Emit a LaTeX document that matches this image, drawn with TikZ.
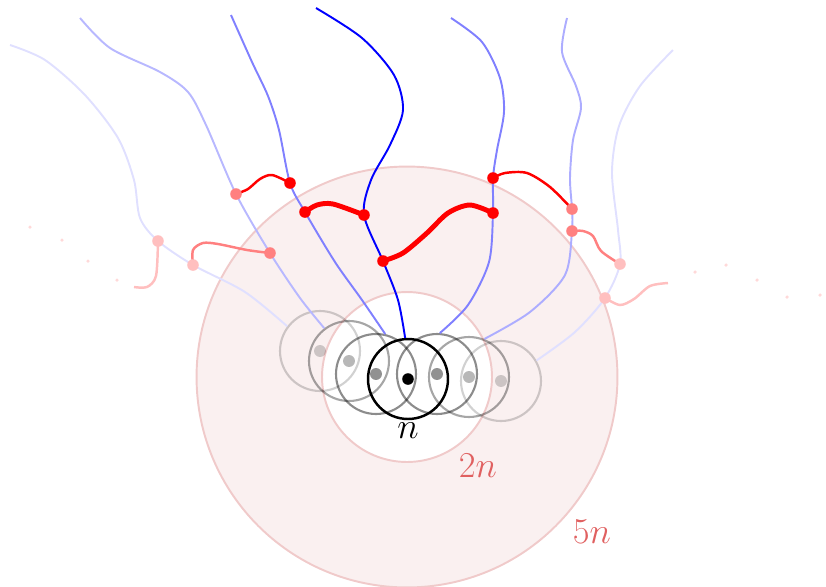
\documentclass[tikz,border=0pt]{standalone}
\definecolor{labred}{RGB}{224,96,96}
\definecolor{zonefill}{RGB}{250,240,240}
\definecolor{zoneline}{RGB}{240,202,202}
\begin{document}
\begin{tikzpicture}[
    x=0.02cm, y=-0.02cm,
    zone/.style={circle, draw=zoneline, line width=1.1pt, inner sep=0pt},
    ring/.style={circle, draw=black, line width=1.2pt, minimum size=1.6cm, inner sep=0pt},
    hub/.style={circle, fill=black, inner sep=0pt, minimum size=6.8pt},
    knot/.style={circle, inner sep=0pt, minimum size=6.6pt},
    speck/.style={circle, fill=red!15, inner sep=0pt, minimum size=2pt},
    strand/.style={line width=1.1pt},
    link/.style={line width=1.4pt},
    bond/.style={line width=2.8pt},
    lab/.style={font=\fontsize{20}{24}\selectfont},
  ]
    \useasboundingbox (0,0) rectangle (826,586);

    % === zones 5n and 2n ===
    \node[zone, fill=zonefill, minimum size=8.42cm] (zone5) at (407,377) {};
    \node[zone, fill=white, minimum size=3.4cm] (zone2) at (407,377) {};

    % === rings round the centre ===
    \node[ring, opacity=0.18] (ringL3) at (320,351) {};
    \node[ring, opacity=0.18] (ringR3) at (501,381) {};
    \node[ring, opacity=0.35] (ringL2) at (349,361) {};
    \node[ring, opacity=0.35] (ringR2) at (469,377) {};
    \node[ring, opacity=0.45] (ringL1) at (376,374) {};
    \node[ring, opacity=0.45] (ringR1) at (437,374) {};
    \node[ring, line width=1.4pt] (ring0) at (408,379) {};
    \node[hub, opacity=0.18] (hubL3) at (ringL3) {};
    \node[hub, opacity=0.18] (hubR3) at (ringR3) {};
    \node[hub, opacity=0.28] (hubL2) at (ringL2) {};
    \node[hub, opacity=0.28] (hubR2) at (ringR2) {};
    \node[hub, opacity=0.43] (hubL1) at (ringL1) {};
    \node[hub, opacity=0.43] (hubR1) at (ringR1) {};
    \node[hub, minimum size=6.6pt] (hub0) at (ring0) {};

    % strand tops and crossing points
    \coordinate (topL3) at (10,45);
    \coordinate (topL2) at (80,18);
    \coordinate (topL1) at (231,15);
    \coordinate (top0) at (316,8);
    \coordinate (topR1) at (451,18);
    \coordinate (topR2) at (567,18);
    \coordinate (topR3) at (673,50);
    \coordinate (pL3a) at (158,241);
    \coordinate (pL3b) at (193,265);
    \coordinate (pL2a) at (236,194);
    \coordinate (pL2b) at (270,253);
    \coordinate (pL1a) at (290,183);
    \coordinate (pL1b) at (305,212);
    \coordinate (p0a) at (364,215);
    \coordinate (p0b) at (383,261);
    \coordinate (pR1a) at (493,178);
    \coordinate (pR1b) at (493,213);
    \coordinate (pR2a) at (572,209);
    \coordinate (pR2b) at (572,231);
    \coordinate (pR3a) at (620,264);
    \coordinate (pR3b) at (605,298);
    \coordinate (endL) at (134,287);
    \coordinate (endR) at (668,283);

    % === strands ===
    \draw[strand, blue!12] plot[smooth] coordinates {(topL3) (45,60) (85,95) (118,138) (134,180) (140,218) (pL3a) (pL3b) (245,292) (ringL3.143)};
    \draw[strand, blue!28] plot[smooth] coordinates {(topL2) (110,48) (160,72) (188,92) (206,125) (pL2a) (pL2b) (300,298) (ringL2.127)};
    \draw[strand, blue!50] plot[smooth] coordinates {(topL1) (252,62) (268,96) (279,130) (pL1a) (pL1b) (335,262) (362,300) (ringL1.77)};
    \draw[strand, blue] plot[smooth] coordinates {(top0) (362,38) (394,75) (403,110) (390,145) (371,180) (p0a) (p0b) (398,300) (ring0.94)};
    \draw[strand, blue!50] plot[smooth] coordinates {(topR1) (482,42) (500,78) (504,112) (497,150) (pR1a) (pR1b) (489,262) (468,305) (ringR1.86)};
    \draw[strand, blue!32] plot[smooth] coordinates {(topR2) (562,52) (576,86) (581,108) (573,140) (570,178) (pR2a) (pR2b) (565,275) (530,312) (ringR2.68)};
    \draw[strand, blue!12] plot[smooth] coordinates {(topR3) (640,86) (619,126) (612,172) (618,230) (pR3a) (pR3b) (575,332) (ringR3.30)};

    % === links ===
    \draw[link, red] plot[smooth] coordinates {(pL2a) (248,189) (260,179) (272,175) (pL1a)};
    \draw[bond, red] plot[smooth] coordinates {(pL1b) (317,205) (333,204) (p0a)};
    \draw[bond, red] plot[smooth] coordinates {(p0b) (403,253) (427,233) (448,213) (470,205) (pR1b)};
    \draw[link, red] plot[smooth] coordinates {(pR1a) (505,173) (527,173) (550,187) (pR2a)};
    \draw[link, red!50] plot[smooth] coordinates {(pL3b) (193,250) (203,243) (218,244) (247,250) (pL2b)};
    \draw[link, red!50] plot[smooth] coordinates {(pR2b) (583,231) (593,236) (601,251) (pR3a)};
    \draw[link, red!25] plot[smooth] coordinates {(pL3a) (156,276) (147,287) (endL)};
    \draw[link, red!25] plot[smooth] coordinates {(pR3b) (620,305) (634,299) (650,286) (endR)};

    % === knots ===
    \node[knot, fill=red!25] (kL3a) at (pL3a) {};
    \node[knot, fill=red!25] (kL3b) at (pL3b) {};
    \node[knot, fill=red!50] (kL2a) at (pL2a) {};
    \node[knot, fill=red!50] (kL2b) at (pL2b) {};
    \node[knot, fill=red] (kL1a) at (pL1a) {};
    \node[knot, fill=red] (kL1b) at (pL1b) {};
    \node[knot, fill=red] (k0a) at (p0a) {};
    \node[knot, fill=red] (k0b) at (p0b) {};
    \node[knot, fill=red] (kR1a) at (pR1a) {};
    \node[knot, fill=red] (kR1b) at (pR1b) {};
    \node[knot, fill=red!50] (kR2a) at (pR2a) {};
    \node[knot, fill=red!50] (kR2b) at (pR2b) {};
    \node[knot, fill=red!25] (kR3a) at (pR3a) {};
    \node[knot, fill=red!25] (kR3b) at (pR3b) {};

    % faint specks
    \foreach \sx/\sy [count=\i] in {30/227, 62/240, 88/261, 117/280, 695/272, 726/265, 757/280, 787/297, 820/295} {
      \node[speck] (speck\i) at (\sx,\sy) {};
    }

    % labels
    \node[lab] (labn) at (408,431) {$n$};
    \node[lab, text=labred] (lab2n) at (478,466) {$2n$};
    \node[lab, text=labred] (lab5n) at (592,532) {$5n$};
  \end{tikzpicture}
\end{document}
